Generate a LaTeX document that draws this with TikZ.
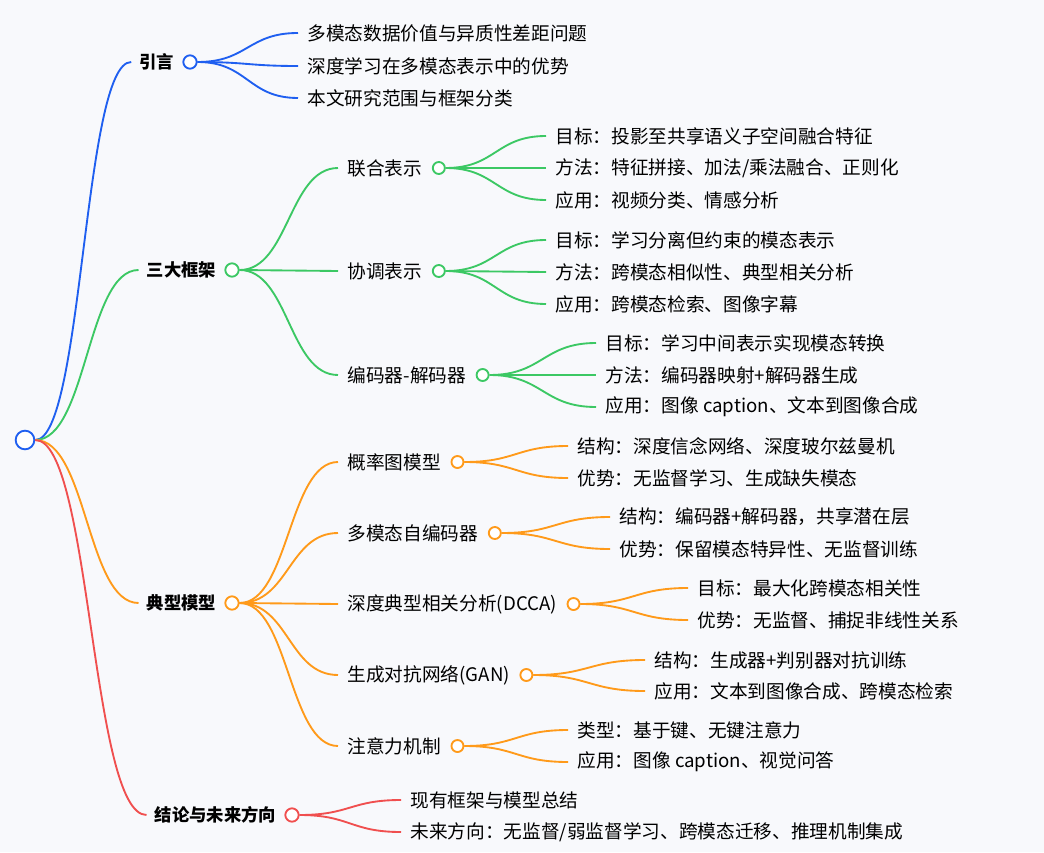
\documentclass[tikz,border=0pt]{standalone}
\usepackage{fontspec}
\setmainfont{Noto Sans CJK SC}
\usetikzlibrary{calc}
\definecolor{cb}{HTML}{1F5FF0}
\definecolor{cg}{HTML}{3CC864}
\definecolor{co}{HTML}{FF9A1A}
\definecolor{cr}{HTML}{F04F4F}
\definecolor{bg}{HTML}{F8F9FC}
\tikzset{
 dot/.style={circle,draw,fill=white,line width=1.4pt,inner sep=0pt,minimum size=10pt},
 rootdot/.style={dot,minimum size=14pt},
 lab/.style={font=\fontsize{13}{15}\selectfont\bfseries,inner xsep=6pt,inner ysep=0pt,anchor=east},
 txt/.style={font=\fontsize{14}{16}\selectfont,inner xsep=7pt,inner ysep=0pt,anchor=west},
 lnk/.style={line width=1.4pt},
}
\newcommand\mlink[3]{\path ($(#2)!0.5!(#3)$) coordinate (mm);
 \draw[lnk,#1] (#2) .. controls (mm |- #2) and (mm |- #3) .. (#3);}
\begin{document}
\begin{tikzpicture}[x=0.75pt,y=-0.75pt]
\fill[bg] (0,0) rectangle (1044,852);
\useasboundingbox (0,0) rectangle (1044,852);
% level1
\node[dot,draw=cb] (c1) at (190,62) {};
\node[lab] (l1) at (c1.west) {引言};
\node[dot,draw=cg] (c2) at (232,270) {};
\node[lab] (l2) at (c2.west) {三大框架};
\node[dot,draw=co] (c3) at (232,603) {};
\node[lab] (l3) at (c3.west) {典型模型};
\node[dot,draw=cr] (c4) at (292,815) {};
\node[lab] (l4) at (c4.west) {结论与未来方向};
\node[rootdot,draw=cb] (r) at (25,440) {};
\mlink{cb}{r.east}{l1.west}
\mlink{cg}{r.east}{l2.west}
\mlink{co}{r.east}{l3.west}
\mlink{cr}{r.east}{l4.west}
% 引言 leaves
\foreach \n/\yy/\t in {a/33/多模态数据价值与异质性差距问题, b/66/深度学习在多模态表示中的优势, c/98/本文研究范围与框架分类}{
 \node[txt] (i\n) at (298,\yy) {\t};
 \mlink{cb}{c1.east}{i\n.west}
}
% 三大框架 children
\foreach \n/\yy/\t in {a/168/联合表示, b/271/协调表示, c/375/编码器-解码器}{
 \node[txt] (f\n) at (338,\yy) {\t};
 \node[dot,draw=cg,minimum size=9pt,anchor=west] (fc\n) at (f\n.east) {};
 \mlink{cg}{c2.east}{f\n.west}
}
\foreach \q/\xx/\ya/\yb/\yc/\ta/\tb/\tc in {
 a/546/136/168/200/{目标：投影至共享语义子空间融合特征}/{方法：特征拼接、加法/乘法融合、正则化}/{应用：视频分类、情感分析},
 b/546/240/272/304/{目标：学习分离但约束的模态表示}/{方法：跨模态相似性、典型相关分析}/{应用：跨模态检索、图像字幕},
 c/596/343/375/407/{目标：学习中间表示实现模态转换}/{方法：编码器映射+解码器生成}/{应用：图像 caption、文本到图像合成}}{
 \node[txt] (f\q1) at (\xx,\ya) {\ta};
 \node[txt] (f\q2) at (\xx,\yb) {\tb};
 \node[txt] (f\q3) at (\xx,\yc) {\tc};
 \mlink{cg}{fc\q.east}{f\q1.west}
 \mlink{cg}{fc\q.east}{f\q2.west}
 \mlink{cg}{fc\q.east}{f\q3.west}
}
% 典型模型 children
\foreach \n/\yy/\t in {a/462/概率图模型, b/533/多模态自编码器, c/604/深度典型相关分析(DCCA), d/675/生成对抗网络(GAN), e/746/注意力机制}{
 \node[txt] (m\n) at (338,\yy) {\t};
 \node[dot,draw=co,minimum size=9pt,anchor=west] (mc\n) at (m\n.east) {};
 \mlink{co}{c3.east}{m\n.west}
}
\foreach \q/\xx/\ya/\yb/\ta/\tb in {
 a/568/446/478/{结构：深度信念网络、深度玻尔兹曼机}/{优势：无监督学习、生成缺失模态},
 b/610/517/549/{结构：编码器+解码器，共享潜在层}/{优势：保留模态特异性、无监督训练},
 c/688/588/620/{目标：最大化跨模态相关性}/{优势：无监督、捕捉非线性关系},
 d/645/660/691/{结构：生成器+判别器对抗训练}/{应用：文本到图像合成、跨模态检索},
 e/568/730/762/{类型：基于键、无键注意力}/{应用：图像 caption、视觉问答}}{
 \node[txt] (m\q1) at (\xx,\ya) {\ta};
 \node[txt] (m\q2) at (\xx,\yb) {\tb};
 \mlink{co}{mc\q.east}{m\q1.west}
 \mlink{co}{mc\q.east}{m\q2.west}
}
% 结论
\node[txt] (e1) at (401,800) {现有框架与模型总结};
\node[txt] (e2) at (401,832) {未来方向：无监督/弱监督学习、跨模态迁移、推理机制集成};
\mlink{cr}{c4.east}{e1.west}
\mlink{cr}{c4.east}{e2.west}
\end{tikzpicture}
\end{document}
